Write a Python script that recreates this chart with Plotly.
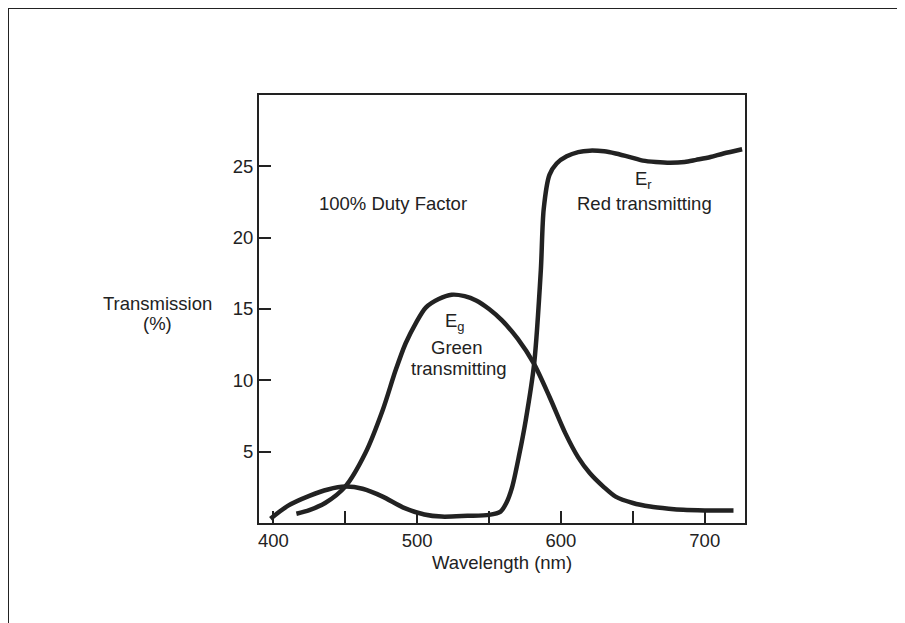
import plotly.graph_objects as go

# Red transmitting filter (E_r)
red_wl = [398, 410, 425, 438, 450, 462, 476, 490, 505, 517, 535, 550, 558, 562, 566, 571,
          575.5, 581.4, 586, 588, 592, 597, 604, 612, 620, 630, 638, 648, 657, 666, 676,
          686, 694, 704, 713, 726]
red_tr = [0.3, 1.2, 1.9, 2.35, 2.55, 2.4, 1.85, 1.1, 0.6, 0.45, 0.5, 0.57, 0.8, 1.4, 2.5, 4.8,
          7.2, 11.2, 17.7, 22.0, 24.4, 25.2, 25.7, 26.0, 26.1, 26.05, 25.9, 25.65, 25.4, 25.3,
          25.25, 25.3, 25.45, 25.65, 25.9, 26.2]

# Green transmitting filter (E_g)
green_wl = [416, 425, 436, 450, 464, 476, 485, 492, 499, 506, 515, 524, 533, 541, 550, 559,
            570, 581, 592, 603, 612, 620, 630, 638, 650, 662, 675, 685, 700, 720]
green_tr = [0.65, 0.9, 1.4, 2.55, 4.9, 7.9, 10.7, 12.6, 14.0, 15.1, 15.7, 16.0, 15.9, 15.6,
            15.0, 14.2, 12.9, 11.2, 8.85, 6.3, 4.6, 3.5, 2.5, 1.85, 1.4, 1.15, 1.0, 0.92,
            0.88, 0.87]

x_tickvals = [400, 500, 600, 700]
x_minor_tickvals = [450, 550, 650]
y_tickvals = [5, 10, 15, 20, 25]

INK = "#222222"
FONT = "Liberation Sans, Arial, sans-serif"
FS = 18.5

fig = go.Figure()
fig.add_trace(go.Scatter(x=red_wl, y=red_tr, mode="lines",
                         line=dict(color=INK, width=4.5, shape="spline", smoothing=0.8),
                         showlegend=False, hoverinfo="skip"))
fig.add_trace(go.Scatter(x=green_wl, y=green_tr, mode="lines",
                         line=dict(color=INK, width=4.5, shape="spline", smoothing=0.8),
                         showlegend=False, hoverinfo="skip"))

OFF = 8  # page body margin offset
W, H = 905 - OFF, 623 - OFF
L, R, T, B = 259 - OFF, 160, 95 - OFF, 100
pw, ph = W - L - R, H - T - B

def px(x):
    return (x - OFF - L) / pw

def py(y):
    return (H - B - (y - OFF)) / ph

fig.update_layout(
    width=W, height=H,
    margin=dict(l=L, r=R, t=T, b=B),
    paper_bgcolor="white", plot_bgcolor="white",
    font=dict(family=FONT, size=FS, color=INK),
    xaxis=dict(range=[390, 728], tickvals=x_tickvals,
               ticks="inside", ticklen=12, tickwidth=2, tickcolor=INK,
               minor=dict(tickvals=x_minor_tickvals, ticks="inside", ticklen=12,
                          tickwidth=2, tickcolor=INK, showgrid=False),
               showline=True, linewidth=2, linecolor=INK, mirror=True,
               showgrid=False, zeroline=False, tickfont=dict(size=FS)),
    yaxis=dict(range=[0, 30], tickvals=y_tickvals,
               ticks="inside", ticklen=12, tickwidth=2, tickcolor=INK,
               showline=True, linewidth=2, linecolor=INK, mirror=True,
               showgrid=False, zeroline=False, tickfont=dict(size=FS)),
)

annots = [
    dict(x=393, y=203, text="100% Duty Factor"),
    dict(x=643, y=180, text="E<sub>r</sub>"),
    dict(x=644, y=204, text="Red transmitting"),
    dict(x=455, y=322, text="E<sub>g</sub>"),
    dict(x=456, y=347, text="Green"),
    dict(x=459, y=368, text="transmitting"),
    dict(x=157, y=303, text="Transmission"),
    dict(x=157, y=323, text="(%)"),
    dict(x=502, y=562, text="Wavelength (nm)"),
]
for a in annots:
    fig.add_annotation(x=px(a["x"]), y=py(a["y"]), xref="paper", yref="paper",
                       text=a["text"], showarrow=False, xanchor="center", yanchor="middle",
                       font=dict(family=FONT, size=FS, color=INK))

# outer frame (top and left edges)
fig.add_shape(type="line", xref="paper", yref="paper", x0=px(8), x1=px(905), y0=py(8), y1=py(8),
              line=dict(color=INK, width=2))
fig.add_shape(type="line", xref="paper", yref="paper", x0=px(8), x1=px(8), y0=py(8), y1=py(623),
              line=dict(color=INK, width=2))

fig.write_html("out.html")
